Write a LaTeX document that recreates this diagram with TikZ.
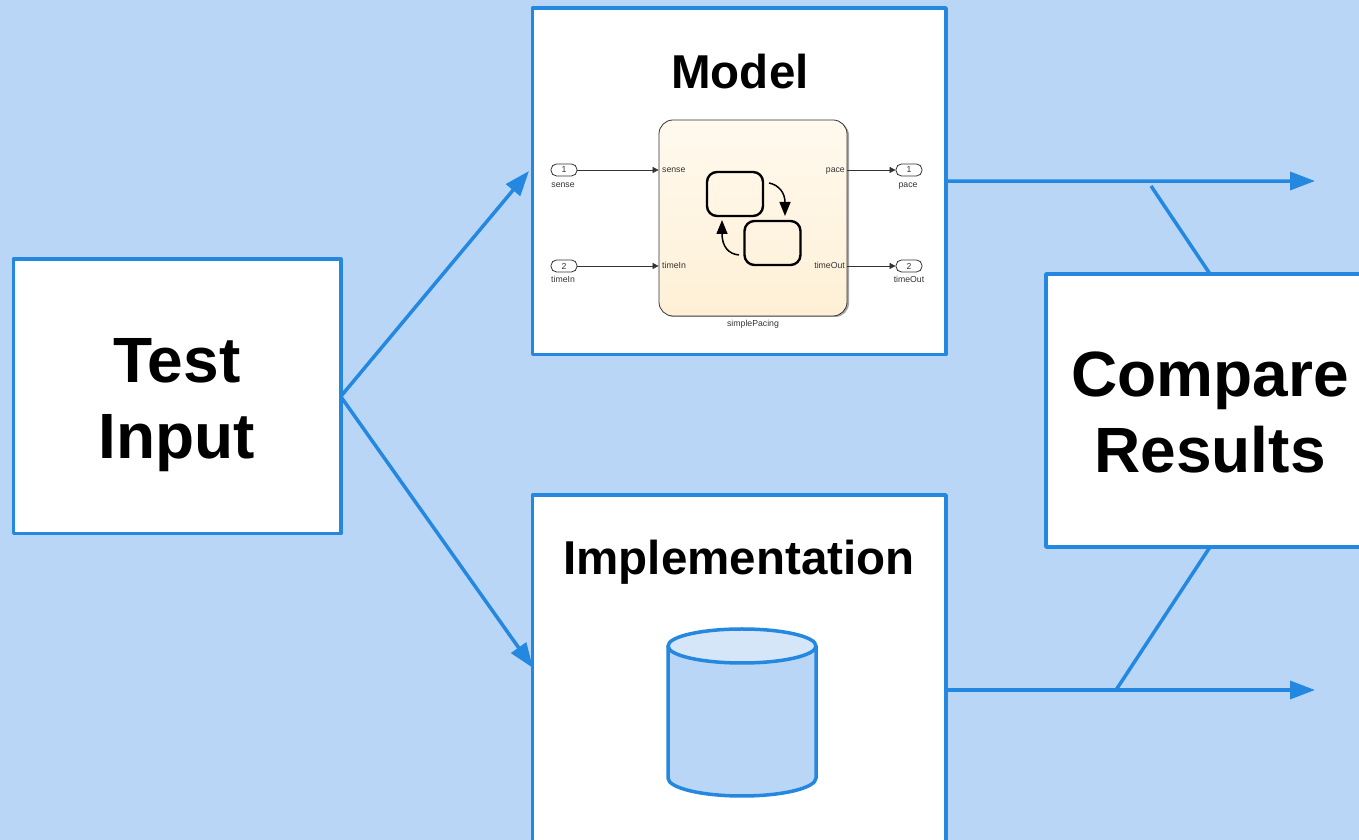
\documentclass[tikz,border=0pt]{standalone}
\usepackage{fontspec}
\setmainfont{Liberation Sans}
\usetikzlibrary{arrows.meta,calc,shapes.geometric}
\definecolor{pagebg}{HTML}{B9D6F6}
\definecolor{flowline}{HTML}{2488E0}
\definecolor{lidfill}{HTML}{D5E6F9}
\definecolor{charttop}{HTML}{FFF9EE}
\definecolor{chartbot}{HTML}{FEF0D6}
\definecolor{ink}{HTML}{333333}

\begin{document}
\begin{tikzpicture}[join=round,x=1pt,y=1pt]
	\tikzstyle{box}=[draw=flowline, line width=3.5pt, fill=white, inner sep=0pt, outer sep=0pt, align=center]
	\tikzstyle{flow}=[draw=flowline, line width=3.5pt]
	\tikzstyle{head}=[-{Triangle[length=25pt,width=18pt]}]
	\tikzstyle{big}=[font=\fontsize{64}{76}\selectfont\bfseries, align=center]
	\tikzstyle{title}=[font=\fontsize{47.5}{57}\selectfont\bfseries, anchor=base]
	\tikzstyle{tiny}=[font=\fontsize{8.7}{10}\selectfont, text=ink, inner sep=0pt, anchor=base]
	\tikzstyle{port}=[draw=ink, line width=0.8pt, fill=white, rounded corners=5.5pt, minimum width=26pt, minimum height=12pt, inner sep=0pt, font=\fontsize{8.7}{10}\selectfont, text=ink]
	\tikzstyle{wire}=[draw=ink, line width=0.6pt, -{Triangle[length=6pt,width=6pt]}]
	\tikzstyle{state}=[draw=black, line width=2.4pt, rounded corners=10pt, minimum width=56pt, minimum height=44pt, inner sep=0pt]
	\tikzstyle{turn}=[draw=black, line width=1.5pt, -{Triangle[length=14pt,width=11pt]}]

	\clip (0,0) rectangle (1359,840);
	\fill[pagebg] (0,0) rectangle (1359,840);

	% main boxes
	\node[box, minimum width=327.5pt, minimum height=274.5pt] (test) at (177,443.5) {};
	\node[box, minimum width=413.5pt, minimum height=346.5pt] (model) at (739.25,658.75) {};
	\node[box, minimum width=413.5pt, minimum height=390pt] (impl) at (739.25,150) {};
	\node[box, minimum width=328pt, minimum height=273pt] (compare) at (1210,429.5) {};

	\node[big] (testlabel) at (177,434.5) {Test\\Input};
	\node[big] (comparelabel) at (1210,427.5) {Compare\\Results};
	\node[title] (modeltitle) at (740,751) {Model};
	\node[title] (impltitle) at (739,265) {Implementation};

	% free ends
	\coordinate (modelin) at (529,669);
	\coordinate (implin) at (533,172);
	\coordinate (modelout) at (1315,659);
	\coordinate (implout) at (1315,150);
	\coordinate (tapa) at (1151,654);
	\coordinate (tapb) at (1116,150);

	\draw[flow, head] (test.east) -- (modelin);
	\draw[flow, head] (test.east) -- (implin);
	\draw[flow, head] (model.east) -- (modelout);
	\draw[flow, head] (impl.east) -- (implout);
	\draw[flow] (compare.north) -- (tapa);
	\draw[flow] (compare.south) -- (tapb);

	% chart block
	\fill[gray!70, rounded corners=14pt] (660.5,523) rectangle (849,718.5);
	\node[draw=ink, line width=0.8pt, rounded corners=14pt, top color=charttop, bottom color=chartbot, minimum width=188pt, minimum height=196pt, inner sep=0pt] (chart) at (753,622) {};
	\node[tiny] (chartname) at (753,513) {simplePacing};

	\node[port] (insense) at (564,670) {1};
	\node[port] (intime) at (564,574) {2};
	\node[port] (outpace) at (909,670) {1};
	\node[port] (outtime) at (909,574) {2};

	\node[tiny] at (563,652.7) (sensename) {sense};
	\node[tiny] at (563,557) (timename) {timeIn};
	\node[tiny] at (908,652.7) (pacename) {pace};
	\node[tiny] at (909,557) (timeoutname) {timeOut};

	\node[tiny, anchor=base west] (sensein) at (662,667) {sense};
	\node[tiny, anchor=base west] (timein) at (662,571.5) {timeIn};
	\node[tiny, anchor=base east] (paceout) at (845,667) {pace};
	\node[tiny, anchor=base east] (timeout) at (845,571.5) {timeOut};

	\draw[wire] (insense.east) -- (insense -| chart.west);
	\draw[wire] (intime.east) -- (intime -| chart.west);
	\draw[wire] (outpace -| chart.east) -- (outpace.west);
	\draw[wire] (outtime -| chart.east) -- (outtime.west);

	\node[state] (statea) at (735,646) {};
	\node[state] (stateb) at (772.5,597) {};
	\coordinate (turna) at (769,657);
	\coordinate (turnb) at (785,624);
	\coordinate (turnc) at (739,585);
	\coordinate (turnd) at (722,620);
	\draw[turn] (turna) .. controls (779,655) and (785,647) .. (turnb);
	\draw[turn] (turnc) .. controls (728,586) and (722,594) .. (turnd);

	% storage
	\draw[flow, fill=pagebg] (668,194) -- (668,62) arc[start angle=180, end angle=360, x radius=74pt, y radius=18pt] -- (816,194);
	\draw[flow, fill=lidfill] (742,194) ellipse[x radius=74pt, y radius=17pt];
\end{tikzpicture}
\end{document}
